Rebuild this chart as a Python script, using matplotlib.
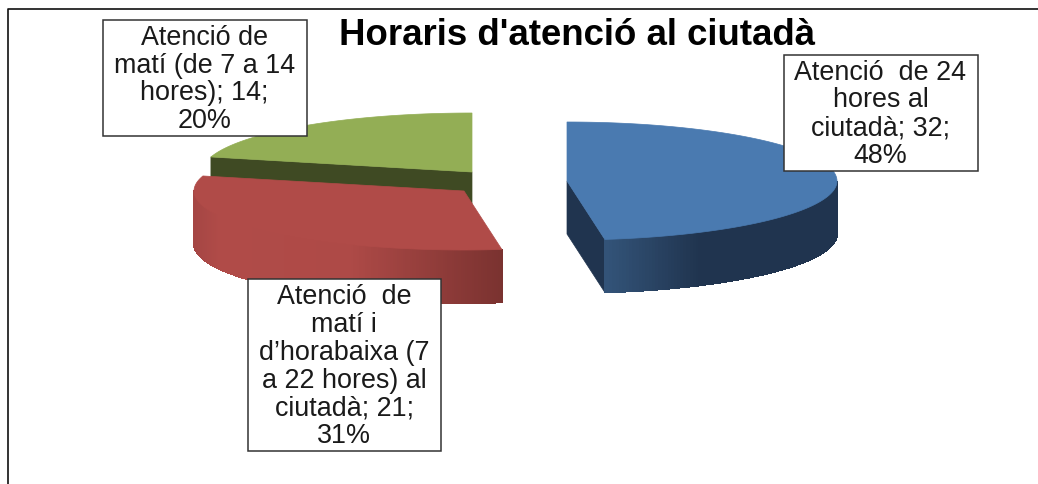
import numpy as np
import matplotlib
matplotlib.use("Agg")
import matplotlib.pyplot as plt
from matplotlib.patches import Polygon, Rectangle
from matplotlib.collections import PolyCollection
from matplotlib.colors import to_rgb

title = "Horaris d'atenció al ciutadà"
values = [32, 21, 14]
labels = ["Atenció  de 24\nhores al\nciutadà; 32;\n48%",
          "Atenció  de\nmatí i\nd’horabaixa (7\na 22 hores) al\nciutadà; 21;\n31%",
          "Atenció de\nmatí (de 7 a 14\nhores); 14;\n20%"]
top_colors = ["#4A7AB0", "#B04B48", "#93AE55"]
inner_colors = ["#20344F", "#6E2D2B", "#3F4A23"]
side_stops = [[(0.0, "#335479"), (0.4, "#20344F"), (1.0, "#20344F")],
              [(0.0, "#A54644"), (0.08, "#B04B48"), (0.5, "#AE4A47"), (1.0, "#7A3230")],
              [(0.0, "#3F4A23"), (1.0, "#3F4A23")]]
centers = [(567, 181), (464, 191), (472, 172)]
boxes = [(783.5, 54.5, 977.5, 170.5), (247.5, 279, 441, 451), (102.5, 19.5, 306.5, 136)]

A, B, DEPTH = 270, 59, 53

fig = plt.figure(figsize=(10.38, 4.84), dpi=100)
ax = fig.add_axes([0, 0, 1, 1])
ax.set_xlim(0, 1038)
ax.set_ylim(484, 0)
ax.axis("off")
plt.rcParams["font.family"] = ["Liberation Sans", "DejaVu Sans"]

# chart frame
ax.plot([7.5, 7.5, 1038], [484, 8.5, 8.5], color="#111111", lw=1.2, zorder=1, solid_capstyle="butt")


def pt(c, deg):
    t = np.radians(deg)
    return c[0] + A * np.cos(t), c[1] - B * np.sin(t)


def shade(stops, f):
    xs = [s[0] for s in stops]
    rgb = np.array([to_rgb(s[1]) for s in stops])
    return [np.interp(f, xs, rgb[:, i]) for i in range(3)]


total = sum(values)
sweeps = [v / total * 360 for v in values]
starts = [90 - sum(sweeps[:i]) for i in range(len(values))]
ends = [s - w for s, w in zip(starts, sweeps)]

# back to front: green, red, blue
for i in [2, 1, 0]:
    c, s, e = centers[i], starts[i], ends[i]
    z = 3 + (2 - i)
    # inner radial face that faces the viewer
    if i == 2:
        p = pt(c, s)
        ax.add_patch(Polygon([p, c, (c[0], c[1] + DEPTH), (p[0], p[1] + DEPTH)],
                             fc=inner_colors[i], ec=inner_colors[i], lw=0.5, zorder=z))
    if i == 0:
        p = pt(c, e)
        ax.add_patch(Polygon([c, p, (p[0], p[1] + DEPTH), (c[0], c[1] + DEPTH)],
                             fc=inner_colors[i], ec=inner_colors[i], lw=0.5, zorder=z))
    # outer curved side, lower half of the ellipse only
    th = np.linspace(s, e, 240)
    th = th[np.sin(np.radians(th)) <= 0.0005]
    if len(th) > 1:
        xy = np.array([pt(c, d) for d in th])
        lo, hi = xy[:, 0].min(), xy[:, 0].max()
        quads, cols = [], []
        for j in range(len(th) - 1):
            a, b = xy[j], xy[j + 1]
            quads.append([a, b, (b[0], b[1] + DEPTH), (a[0], a[1] + DEPTH)])
            cols.append(shade(side_stops[i], ((a[0] + b[0]) / 2 - lo) / (hi - lo)))
        ax.add_collection(PolyCollection(quads, facecolors=cols, edgecolors=cols, linewidths=0.6,
                                         antialiaseds=False, zorder=z))
    # top face
    arc = [pt(c, d) for d in np.linspace(s, e, 200)]
    ax.add_patch(Polygon([c] + arc, fc=top_colors[i], ec=top_colors[i], lw=0.5, zorder=z + 0.1))

ax.text(577, 45, title, ha="center", va="baseline", fontsize=26.4, fontweight="bold",
        color="black", zorder=20)

for lab, (x0, y0, x1, y1) in zip(labels, boxes):
    ax.add_patch(Rectangle((x0, y0), x1 - x0, y1 - y0, fc="white", ec="#333333", lw=1.1, zorder=15))
    ax.text((x0 + x1) / 2, (y0 + y1) / 2 + 1.8, lab, ha="center", va="center", fontsize=19.4,
            linespacing=1.09, color="#1a1a1a", zorder=16)

fig.savefig("out.png", dpi=100)
